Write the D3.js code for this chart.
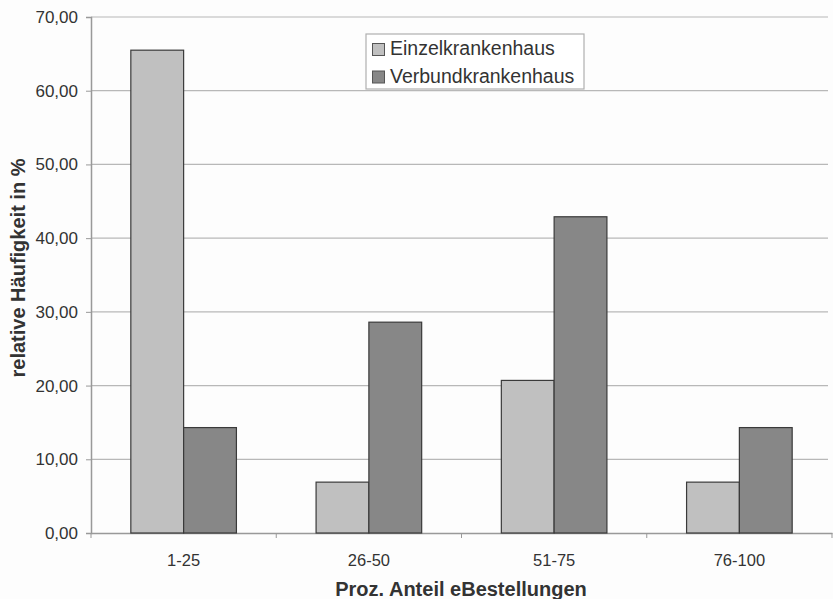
<!DOCTYPE html>
<html><head><meta charset="utf-8">
<script src="https://cdn.jsdelivr.net/npm/d3@7"></script>
<style>body{margin:0;background:#fdfdfd;} svg{display:block;font-family:"Liberation Sans",Arial,sans-serif;}</style>
</head><body>
<svg id="c" width="833" height="599"></svg>
<script>
const categories = ["1-25","26-50","51-75","76-100"];
const seriesNames = ["Einzelkrankenhaus","Verbundkrankenhaus"];
const einzel = [65.5, 6.9, 20.7, 6.9];
const verbund = [14.3, 28.6, 42.9, 14.3];
const yTicks = [0,10,20,30,40,50,60,70];
const colors = ["#c0c0c0","#878787"];

const svg = d3.select("#c");
const m = {l:91, r:832, t:17, b:533};
const x = d3.scaleBand().domain(categories).range([m.l, m.r]).paddingInner(0).paddingOuter(0);
const y = d3.scaleLinear().domain([0,70]).range([m.b, m.t]);
const fmt = v => d3.format(".2f")(v).replace(".", ",");

// gridlines
svg.append("g").selectAll("line").data(yTicks.filter(d=>d>0)).join("line")
  .attr("x1", m.l).attr("x2", m.r-4).attr("y1", d=>y(d)).attr("y2", d=>y(d))
  .attr("stroke","#b8b8b8").attr("stroke-width",1.2);

// y axis
const ya = svg.append("g").attr("transform",`translate(${m.l},0)`)
  .call(d3.axisLeft(y).tickValues(yTicks).tickFormat(fmt).tickSize(5).tickPadding(8));
ya.select(".domain").attr("stroke","#999").attr("stroke-width",1.5);
ya.selectAll(".tick line").attr("stroke","#999");
ya.selectAll("text").attr("font-size",17).attr("fill","#333");

// x axis
const xa = svg.append("g").attr("transform",`translate(0,${m.b})`)
  .call(d3.axisBottom(x).tickSize(0).tickPadding(21));
xa.select(".domain").attr("stroke","#999").attr("stroke-width",1.5);
xa.selectAll("text").attr("font-size",16.5).attr("fill","#333");
const bounds = categories.map(c=>x(c)).concat([m.r]);
xa.selectAll(".sep").data(bounds).join("line").attr("class","sep")
  .attr("x1",d=>d).attr("x2",d=>d).attr("y1",0).attr("y2",5).attr("stroke","#999");

// bars
const groupW = x.bandwidth()*0.57;
const x1 = d3.scaleBand().domain(seriesNames).range([0, groupW]);
const data = [einzel, verbund];
seriesNames.forEach((s,i)=>{
  svg.append("g").selectAll("rect").data(categories).join("rect")
    .attr("x", c => x(c) + (x.bandwidth()-groupW)/2 + x1(s))
    .attr("width", x1.bandwidth())
    .attr("y", (c,j)=>y(data[i][j]))
    .attr("height", (c,j)=>m.b - y(data[i][j]))
    .attr("fill", colors[i]).attr("stroke","#3a3a3a").attr("stroke-width",1.2);
});

// legend
const lg = svg.append("g");
lg.append("rect").attr("x",366).attr("y",34).attr("width",218).attr("height",55)
  .attr("fill","#fff").attr("stroke","#b0b0b0").attr("stroke-width",1.2);
seriesNames.forEach((s,i)=>{
  lg.append("rect").attr("x",372.5).attr("y",43.5+i*27.5).attr("width",12).attr("height",12)
    .attr("fill",colors[i]).attr("stroke","#555");
  lg.append("text").attr("x",390).attr("y",55+i*28).attr("font-size",19.5).attr("fill","#333").text(s);
});

// titles
svg.append("text").attr("x",461).attr("y",596).attr("text-anchor","middle")
  .attr("font-size",20).attr("font-weight","bold").attr("fill","#333").text("Proz. Anteil eBestellungen");
svg.append("text").attr("transform","translate(25,268) rotate(-90)").attr("text-anchor","middle")
  .attr("font-size",20).attr("font-weight","bold").attr("fill","#333").text("relative Häufigkeit in %");
</script>
</body></html>
